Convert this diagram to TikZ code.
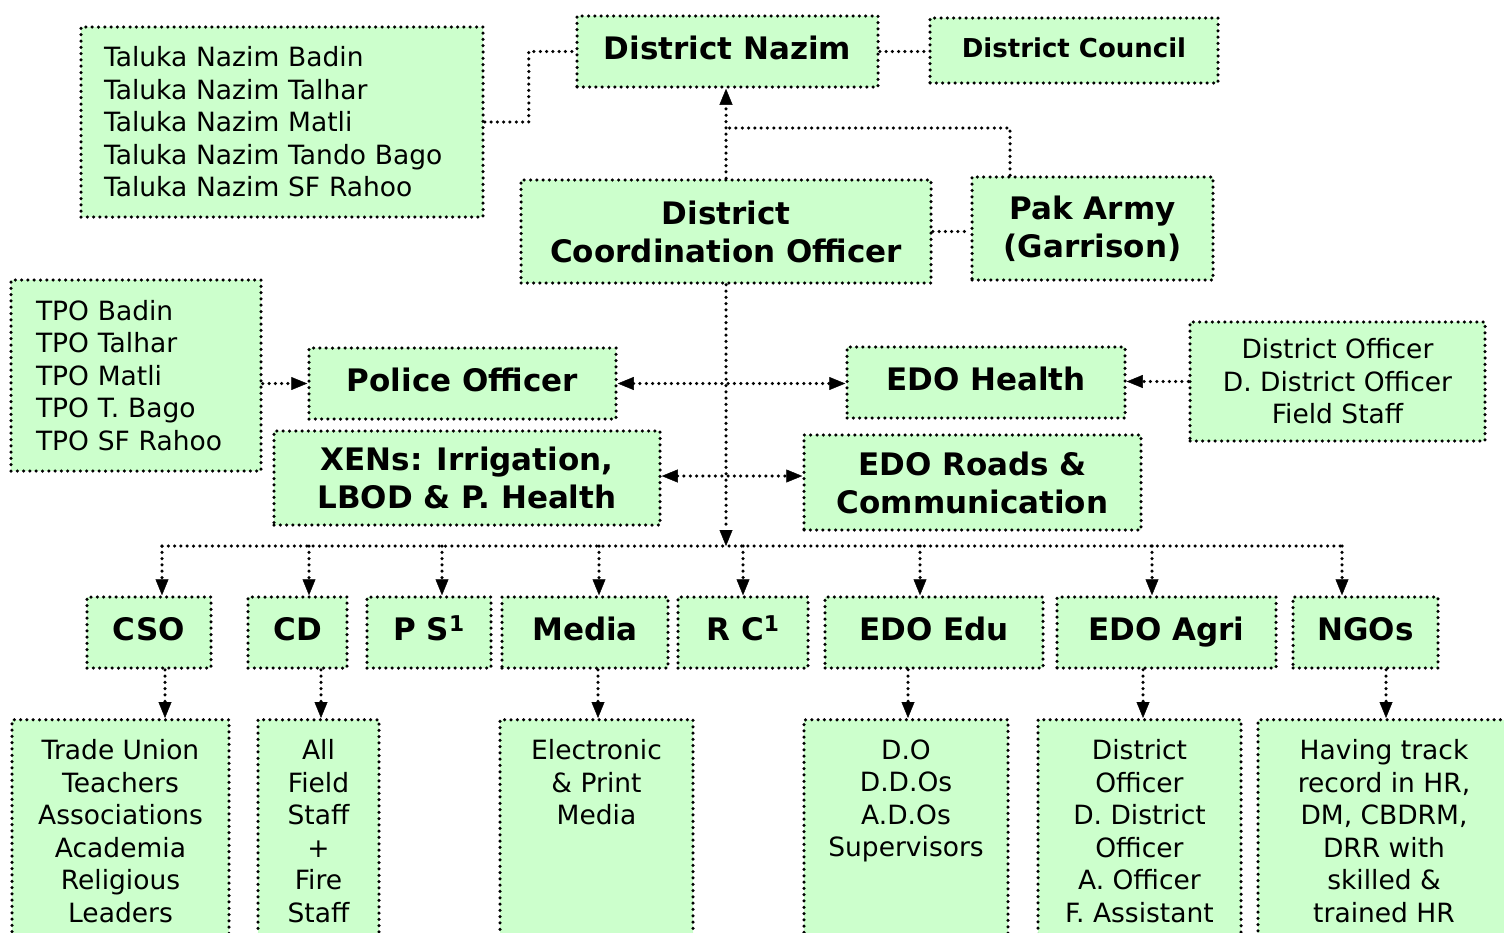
\documentclass[tikz,border=0pt]{standalone}
\usepackage{fontspec}
\setmainfont{DejaVu Sans}
\usetikzlibrary{arrows.meta}
\definecolor{boxgreen}{HTML}{CCFFCC}
\newcommand{\hdfont}{\fontsize{31}{38}\selectfont\bfseries}
\newcommand{\hdsmall}{\fontsize{26}{32}\selectfont\bfseries}
\newcommand{\txtfont}{\fontsize{26.5}{32.5}\selectfont}
\newcommand{\tallbox}[2]{\parbox[t][215pt][t]{#1}{\centering #2}}
\begin{document}
\begin{tikzpicture}[x=1pt,y=-1pt,line join=round,>={Triangle[length=16pt,width=13pt,line width=0.4pt]},
	dots/.style={line width=3.5pt,line cap=round,dash pattern=on 0pt off 6.3pt},
	box/.style={dots,draw,fill=boxgreen,inner sep=0pt,align=center,font=\hdfont},
	single/.style={box,text height=23pt,text depth=7pt},
	list/.style={box,font=\txtfont}]
	\clip (0,0) rectangle (1504,932);
	\node[list,minimum width=402pt,minimum height=190pt,text width=356pt,align=left] (taluka) at (282,122) {Taluka Nazim Badin\\Taluka Nazim Talhar\\Taluka Nazim Matli\\Taluka Nazim Tando Bago\\Taluka Nazim SF Rahoo};
	\node[single,minimum width=301pt,minimum height=71pt] (nazim) at (727.5,51.5) {District Nazim};
	\node[single,font=\hdsmall,text height=19pt,text depth=5pt,minimum width=288pt,minimum height=65pt] (council) at (1074,50.5) {District Council};
	\node[box,minimum width=410pt,minimum height=103pt] (dco) at (726,231.5) {District\\Coordination Officer};
	\node[box,minimum width=241pt,minimum height=103pt] (army) at (1092.5,228.5) {Pak Army\\(Garrison)};
	\node[list,minimum width=250pt,minimum height=191pt,text width=200pt,align=left] (tpo) at (136,375.5) {TPO Badin\\TPO Talhar\\TPO Matli\\TPO T. Bago\\TPO SF Rahoo};
	\node[single,minimum width=307pt,minimum height=71pt] (police) at (462.5,383.5) {Police Officer};
	\node[single,minimum width=278pt,minimum height=71pt] (health) at (986,382.5) {EDO Health};
	\node[list,minimum width=295pt,minimum height=119pt] (hstaff) at (1337.5,381.5) {District Officer\\D. District Officer\\Field Staff};
	\node[box,minimum width=386pt,minimum height=94pt] (xens) at (467,478) {XENs: Irrigation,\\LBOD \& P. Health};
	\node[box,minimum width=337pt,minimum height=95pt] (roads) at (972.5,482.5) {EDO Roads \&\\Communication};
	\node[single,minimum width=124pt,minimum height=71pt] (cso) at (149,632.5) {CSO};
	\node[single,minimum width=99pt,minimum height=71pt] (cd) at (297.5,632.5) {CD};
	\node[single,minimum width=124pt,minimum height=71pt] (ps) at (429,632.5) {P S\textsuperscript{1}};
	\node[single,minimum width=166pt,minimum height=71pt] (media) at (585,632.5) {Media};
	\node[single,minimum width=130pt,minimum height=71pt] (rc) at (743,632.5) {R C\textsuperscript{1}};
	\node[single,minimum width=218pt,minimum height=71pt] (edu) at (934,632.5) {EDO Edu};
	\node[single,minimum width=219pt,minimum height=71pt] (agri) at (1166.5,632.5) {EDO Agri};
	\node[single,minimum width=145pt,minimum height=71pt] (ngos) at (1365.5,632.5) {NGOs};
	\node[list,anchor=north,inner ysep=20pt] (trade) at (120.5,718) {\tallbox{217pt}{Trade Union\\Teachers\\Associations\\Academia\\Religious\\Leaders}};
	\node[list,anchor=north,inner ysep=20pt] (allstaff) at (318.5,718) {\tallbox{121pt}{All\\Field\\Staff\\+\\Fire\\Staff}};
	\node[list,anchor=north,inner ysep=20pt] (elec) at (596.5,718) {\tallbox{193pt}{Electronic\\\& Print\\Media}};
	\node[list,anchor=north,inner ysep=20pt] (edustaff) at (906,718) {\tallbox{204pt}{D.O\\D.D.Os\\A.D.Os\\Supervisors}};
	\node[list,anchor=north,inner ysep=20pt] (agristaff) at (1139.5,718) {\tallbox{203pt}{District\\Officer\\D. District\\Officer\\A. Officer\\F. Assistant}};
	\node[list,anchor=north,inner ysep=20pt] (ngostaff) at (1384,718) {\tallbox{252pt}{Having track\\record in HR,\\DM, CBDRM,\\DRR with\\skilled \&\\trained HR}};
	\draw[dots] (taluka.east) -- ++(44,0) |- (nazim.west);
	\draw[dots] (nazim.east) -- (nazim.east -| council.west);
	\draw[dots,->] (dco.north) -- (dco.north |- nazim.south);
	\coordinate (join) at (dco.north |- 0,128);
	\draw[dots] ([xshift=-82.5pt]army.north) |- (join);
	\draw[dots] (dco.east) -- (dco.east -| army.west);
	\coordinate (bus) at (dco.south |- 0,546);
	\draw[dots,->] (dco.south) -- (bus);
	\draw[dots,->] (tpo.east |- police.west) -- (police.west);
	\draw[dots,<->] (police.east) -- (police.east -| health.west);
	\draw[dots,->] (hstaff.west) -- (hstaff.west -| health.east);
	\draw[dots,<->] ([yshift=2pt]xens.east) -- ([yshift=2pt]xens.east -| roads.west);
	\draw[dots] ([xshift=13pt]cso.north |- bus) -- ([xshift=-23.5pt]ngos.north |- bus);
	\draw[dots,->] ([xshift=13pt]cso.north |- bus) -- ([xshift=13pt]cso.north);
	\draw[dots,->] ([xshift=11.5pt]cd.north |- bus) -- ([xshift=11.5pt]cd.north);
	\draw[dots,->] ([xshift=13pt]ps.north |- bus) -- ([xshift=13pt]ps.north);
	\draw[dots,->] ([xshift=14pt]media.north |- bus) -- ([xshift=14pt]media.north);
	\draw[dots,->] (rc.north |- bus) -- (rc.north);
	\draw[dots,->] ([xshift=-14pt]edu.north |- bus) -- ([xshift=-14pt]edu.north);
	\draw[dots,->] ([xshift=-14.5pt]agri.north |- bus) -- ([xshift=-14.5pt]agri.north);
	\draw[dots,->] ([xshift=-23.5pt]ngos.north |- bus) -- ([xshift=-23.5pt]ngos.north);
	\draw[dots,->] ([xshift=16pt]cso.south) -- ([xshift=16pt]cso.south |- trade.north);
	\draw[dots,->] ([xshift=23.5pt]cd.south) -- ([xshift=23.5pt]cd.south |- allstaff.north);
	\draw[dots,->] ([xshift=13pt]media.south) -- ([xshift=13pt]media.south |- elec.north);
	\draw[dots,->] ([xshift=-26pt]edu.south) -- ([xshift=-26pt]edu.south |- edustaff.north);
	\draw[dots,->] ([xshift=-23.5pt]agri.south) -- ([xshift=-23.5pt]agri.south |- agristaff.north);
	\draw[dots,->] ([xshift=20.5pt]ngos.south) -- ([xshift=20.5pt]ngos.south |- ngostaff.north);
\end{tikzpicture}
\end{document}
